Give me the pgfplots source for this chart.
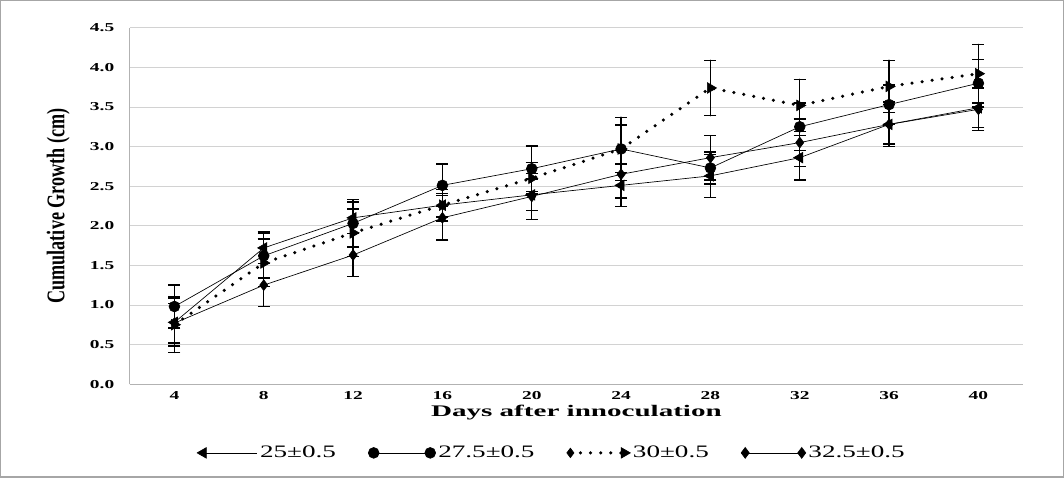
\documentclass[border=0pt]{standalone}
\usepackage{pgfplots}
\pgfplotsset{compat=1.18}
\usepackage{pgfplotstable}
\usepackage{graphicx}
\usepackage{fontspec}
\setmainfont{Liberation Serif}

\pgfplotsset{
  legA/.style={/pgfplots/legend image code/.code={\draw[##1,mark=none] (0pt,0pt)--(40pt,0pt); \draw[##1] plot coordinates {(0pt,0pt)};}},
  legB/.style={/pgfplots/legend image code/.code={\draw[##1] plot coordinates {(0pt,0pt) (42pt,0pt)};}},
  legC/.style={/pgfplots/legend image code/.code={\draw[##1,mark=none] (0pt,0pt)--(40pt,0pt); \draw[##1] plot coordinates {(40pt,0pt)}; \draw[black,solid,line width=0.5pt,mark=diamond*,mark size=3.5pt,mark options={fill=black}] plot coordinates {(0pt,0pt)};}},
}

\pgfplotstableread{
x y e
4 0.78 0.30
8 1.72 0.20
12 2.10 0.20
16 2.26 0.20
20 2.39 0.20
24 2.51 0.27
28 2.63 0.27
32 2.86 0.28
36 3.28 0.28
40 3.49 0.25
}\tA
\pgfplotstableread{
x y e
4 0.98 0.27
8 1.62 0.28
12 2.03 0.30
16 2.51 0.27
20 2.72 0.29
24 2.97 0.30
28 2.73 0.20
32 3.25 0.30
36 3.53 0.25
40 3.80 0.30
}\tB
\pgfplotstableread{
x y e
4 0.75 0.35
8 1.53 0.30
12 1.91 0.30
16 2.26 0.15
20 2.60 0.20
24 2.97 0.40
28 3.74 0.35
32 3.52 0.33
36 3.76 0.33
40 3.92 0.37
}\tC
\pgfplotstableread{
x y e
4 0.77 0.25
8 1.25 0.27
12 1.63 0.27
16 2.10 0.28
20 2.37 0.29
24 2.65 0.30
28 2.86 0.28
32 3.05 0.30
36 3.28 0.25
40 3.47 0.27
}\tD

\begin{document}
\begin{tikzpicture}
\begin{axis}[
  scale only axis, width=663.75pt, height=264.75pt,
  xmin=2, xmax=42, ymin=0, ymax=4.5,
  xtick={4,8,...,40}, ytick={0,0.5,...,4.5},
  ymajorgrids, major grid style={gray!35, line width=0.5pt},
  axis x line*=bottom, axis y line*=left,
  axis line style={gray!60, line width=0.5pt, -},
  tick style={draw=none},
  /pgf/number format/assume math mode=true,
  xticklabel={\scalebox{1.6}[1]{\pgfmathprintnumber{\tick}}},
  yticklabel={\scalebox{1.6}[1]{\pgfmathprintnumber[fixed,fixed zerofill,precision=1]{\tick}}},
  yticklabel style={xshift=-8pt},
  ticklabel style={font=\bfseries\fontsize{9}{10}\selectfont},
  xticklabel style={yshift=-2pt},
  xlabel={\scalebox{1.8}[1]{Days after innoculation}},
  xlabel style={font=\bfseries\fontsize{12}{14}\selectfont, at={(axis description cs:0.5,-0.08)}, anchor=center},
  ylabel={\scalebox{1}[1.4]{Cumulative Growth (cm)}},
  ylabel style={font=\bfseries\fontsize{13.5}{15}\selectfont, at={(axis description cs:-0.08,0.5)}, anchor=center},
  legend columns=4,
  legend style={draw=none, fill=none, font=\fontsize{13}{15}\selectfont, at={(rel axis cs:0.473,-0.193)}, anchor=center, /tikz/every even column/.append style={column sep=22pt}},
  error bars/error bar style={black, line width=1.1pt, solid},
  error bars/error mark options={rotate=90, mark size=4.5pt, black, line width=1.1pt, solid},
]
\addplot[black, line width=0.5pt, mark=triangle*, mark size=4.5pt, mark options={rotate=90, fill=black}, legA,
  error bars/.cd, y dir=both, y explicit]
  table[x=x, y=y, y error=e] {\tA};
\addlegendentry{\scalebox{1.55}[1]{25±0.5}}
\addplot[black, line width=0.5pt, mark=*, mark size=4pt, mark options={fill=black}, legB,
  error bars/.cd, y dir=both, y explicit]
  table[x=x, y=y, y error=e] {\tB};
\addlegendentry{\scalebox{1.55}[1]{27.5±0.5}}
\addplot[black, line width=2.6pt, dash pattern=on 0pt off 7.5pt, line cap=round, mark=triangle*, mark size=4.5pt, mark options={solid, rotate=-90, fill=black, line width=0.5pt}, legC,
  error bars/.cd, y dir=both, y explicit]
  table[x=x, y=y, y error=e] {\tC};
\addlegendentry{\scalebox{1.55}[1]{30±0.5}}
\addplot[black, line width=0.5pt, mark=diamond*, mark size=4pt, mark options={fill=black}, legB,
  error bars/.cd, y dir=both, y explicit]
  table[x=x, y=y, y error=e] {\tD};
\addlegendentry{\scalebox{1.55}[1]{32.5±0.5}}
\end{axis}
\draw[gray!70, line width=0.8pt] ([shift={(-96pt,-69pt)}]current axis.south west) rectangle ([shift={(30pt,20.25pt)}]current axis.north east);
\end{tikzpicture}
\end{document}
